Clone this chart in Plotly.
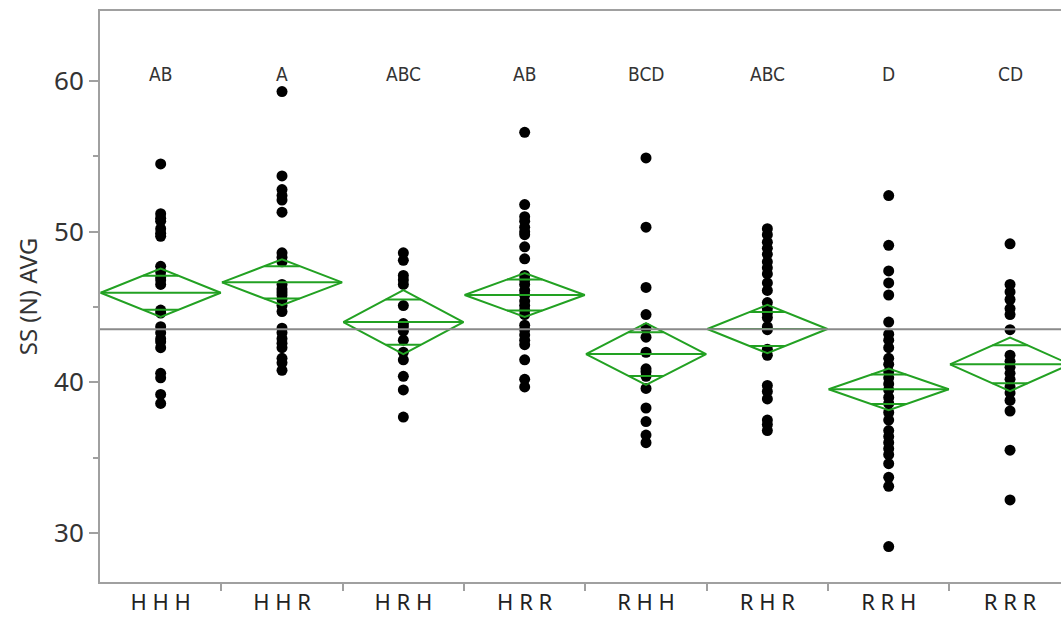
import plotly.graph_objects as go
import numpy as np

categories = ["H H H", "H H R", "H R H", "H R R", "R H H", "R H R", "R R H", "R R R"]
letters = ["AB", "A", "ABC", "AB", "BCD", "ABC", "D", "CD"]

HHH = [54.5, 51.2, 50.9, 50.7, 50.2, 49.9, 49.7, 47.7, 47.35, 47.0, 46.8, 46.5, 44.8, 44.6,
       43.7, 43.3, 42.9, 42.7, 42.3, 40.6, 40.3, 39.2, 38.6]
HHR = [59.3, 53.7, 52.8, 52.4, 52.1, 51.3, 48.6, 48.3, 48.0, 46.5, 46.2, 46.0, 45.8, 45.5,
       45.1, 44.7, 43.6, 43.3, 42.9, 42.6, 42.3, 41.6, 41.3, 40.8]
HRH = [48.6, 48.1, 47.1, 46.8, 46.5, 45.1, 43.9, 43.7, 43.4, 42.8, 42.0, 41.5, 40.4, 39.5, 37.7]
HRR = [56.6, 51.8, 51.0, 50.7, 50.3, 50.0, 49.8, 49.0, 48.2, 47.1, 46.8, 46.5, 46.1, 45.8,
       45.4, 45.1, 44.8, 44.5, 43.8, 43.5, 43.15, 42.8, 42.5, 41.5, 40.2, 39.7]
RHH = [54.9, 50.3, 46.3, 44.5, 43.6, 43.0, 42.0, 40.9, 40.7, 40.4, 39.6, 38.3, 37.4, 36.5, 36.0]
RHR = [50.2, 49.8, 49.3, 48.9, 48.5, 48.0, 47.6, 47.2, 46.6, 46.1, 45.3, 44.9, 44.6, 44.3,
       43.7, 43.5, 42.2, 41.8, 39.8, 39.4, 38.9, 37.5, 37.2, 36.8]
RRH = [52.4, 49.1, 47.4, 46.6, 45.8, 44.0, 43.2, 42.8, 42.3, 41.6, 41.2, 40.7, 40.3, 39.9,
       39.5, 39.0, 38.6, 38.0, 37.5, 36.8, 36.4, 36.0, 35.6, 35.2, 34.6, 33.7, 33.1, 29.1]
RRR = [49.2, 46.5, 46.0, 45.5, 44.9, 44.5, 43.5, 41.8, 41.4, 41.0, 40.6, 40.2, 39.7, 39.3,
       38.8, 38.1, 35.5, 32.2]
groups = [HHH, HHR, HRH, HRR, RHH, RHR, RRH, RRR]

means = [45.95, 46.64, 44.0, 45.8, 41.88, 43.54, 39.54, 41.2]
ci_half = [1.6, 1.52, 2.12, 1.45, 2.05, 1.6, 1.38, 1.78]
grand_mean = 43.52

GREEN = "#22a122"
HW = 0.495

fig = go.Figure()

# data points
for i, g in enumerate(groups):
    fig.add_trace(go.Scatter(x=[i] * len(g), y=g, mode="markers",
                             marker=dict(color="black", size=11), showlegend=False,
                             hoverinfo="y", cliponaxis=True))

# grand mean line
fig.add_hline(y=grand_mean, line=dict(color="#8a8a8a", width=2))

# mean diamonds
for i, (m, h) in enumerate(zip(means, ci_half)):
    xs = [i - HW, i, i + HW, i, i - HW, None, i - HW, i + HW]
    ys = [m, m + h, m, m - h, m, None, m, m]
    ov = h / np.sqrt(2)
    ow = HW * (1 - 1 / np.sqrt(2))
    xs += [None, i - ow, i + ow, None, i - ow, i + ow]
    ys += [None, m + ov, m + ov, None, m - ov, m - ov]
    fig.add_trace(go.Scatter(x=xs, y=ys, mode="lines", line=dict(color=GREEN, width=2),
                             showlegend=False, hoverinfo="skip"))

# connecting letters
for i, t in enumerate(letters):
    fig.add_annotation(x=i, y=60.5, text=t, showarrow=False,
                       font=dict(family="Liberation Sans Narrow, DejaVu Sans Condensed, Arial Narrow",
                                 size=19, color="#333333"))

fig.update_layout(
    width=1061, height=617,
    margin=dict(l=100, r=0, t=11, b=35),
    plot_bgcolor="white", paper_bgcolor="white",
    font=dict(family="Noto Sans, Open Sans, sans-serif", color="#333333"),
    xaxis=dict(
        range=[-0.5, 7.42],
        tickmode="array", tickvals=list(range(len(categories))), ticktext=categories,
        ticks="", tickfont=dict(size=22, color="#222222"),
        showgrid=False, zeroline=False,
        showline=True, linecolor="#a0a0a0", linewidth=2, mirror=True,
        minor=dict(tickmode="array", tickvals=[i + 0.5 for i in range(len(categories))],
                   ticks="outside", ticklen=7, tickcolor="#a0a0a0", tickwidth=2, showgrid=False),
    ),
    yaxis=dict(
        range=[26.75, 64.65],
        tickmode="array", tickvals=[30, 40, 50, 60],
        ticks="outside", ticklen=9, tickcolor="#a0a0a0", tickwidth=1.5,
        tickfont=dict(size=26, color="#333333"),
        showgrid=False, zeroline=False,
        showline=True, linecolor="#a0a0a0", linewidth=2,
        minor=dict(tickmode="array", tickvals=[35, 45, 55], ticks="outside", ticklen=5,
                   tickcolor="#a0a0a0", tickwidth=1.5, showgrid=False),
        title=dict(text="SS (N) AVG", font=dict(size=24, color="#333333"), standoff=10),
    ),
)

fig.write_html("out.html", config={"displayModeBar": False},
               post_script="document.body.style.margin='0';")
